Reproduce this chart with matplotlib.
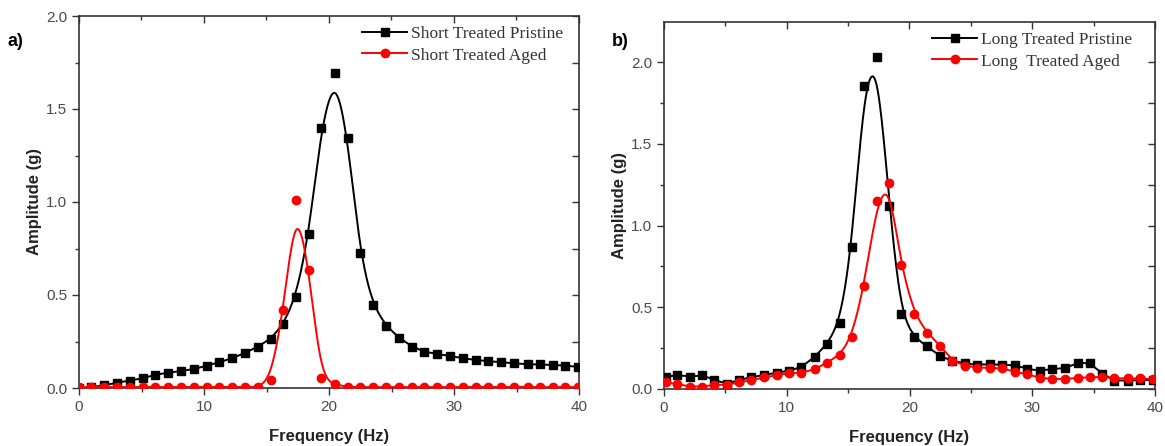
import numpy as np
import matplotlib
matplotlib.use("Agg")
import matplotlib.pyplot as plt
from matplotlib.lines import Line2D
from matplotlib.ticker import MultipleLocator

# ---------------- data ----------------
# Panel a) Short treated
a_pristine_x = [0.0, 1.0, 2.03, 3.01, 4.08, 5.09, 6.08, 7.15, 8.16, 9.22, 10.21, 11.23, 12.27,
                13.28, 14.29, 15.33, 16.35, 17.36, 18.4, 19.36, 20.48, 21.5, 22.48, 23.5, 24.56,
                25.6, 26.67, 27.6, 28.67, 29.68, 30.7, 31.76, 32.75, 33.76, 34.8, 35.9, 36.9,
                37.9, 38.9, 39.9]
a_pristine_y = [0.0, 0.005, 0.014, 0.029, 0.039, 0.052, 0.072, 0.082, 0.091, 0.102, 0.12, 0.138,
                0.161, 0.188, 0.222, 0.263, 0.344, 0.491, 0.83, 1.396, 1.695, 1.342, 0.724, 0.446,
                0.335, 0.27, 0.222, 0.195, 0.183, 0.172, 0.16, 0.15, 0.145, 0.138, 0.133, 0.127,
                0.127, 0.125, 0.12, 0.114]
a_aged_x = a_pristine_x
a_aged_y = [0.005, 0.005, 0.005, 0.005, 0.005, 0.005, 0.005, 0.005, 0.005, 0.005, 0.005, 0.005,
            0.005, 0.005, 0.005, 0.045, 0.418, 1.01, 0.634, 0.052, 0.02, 0.005, 0.005, 0.005,
            0.005, 0.005, 0.005, 0.005, 0.005, 0.005, 0.005, 0.005, 0.005, 0.005, 0.008, 0.005,
            0.005, 0.005, 0.005, 0.005]

# Panel b) Long treated
b_x = [0.2, 1.07, 2.1, 3.12, 4.1, 5.1, 6.1, 7.1, 8.15, 9.17, 10.16, 11.2, 12.3, 13.25, 14.33,
       15.3, 16.3, 17.36, 18.36, 19.3, 20.4, 21.45, 22.5, 23.5, 24.5, 25.5, 26.55, 27.55, 28.6,
       29.6, 30.6, 31.6, 32.66, 33.7, 34.7, 35.7, 36.7, 37.77, 38.8, 39.8]
b_pristine_y = [0.075, 0.086, 0.075, 0.086, 0.055, 0.03, 0.055, 0.072, 0.086, 0.1, 0.11, 0.133,
                0.198, 0.273, 0.405, 0.87, 1.853, 2.03, 1.12, 0.457, 0.316, 0.26, 0.2, 0.171,
                0.157, 0.147, 0.153, 0.147, 0.147, 0.122, 0.112, 0.122, 0.126, 0.161, 0.161,
                0.092, 0.051, 0.051, 0.055, 0.055]
b_aged_y = [0.04, 0.03, 0.015, 0.015, 0.025, 0.025, 0.04, 0.055, 0.071, 0.086, 0.096, 0.1, 0.12,
            0.161, 0.208, 0.32, 0.63, 1.15, 1.258, 0.758, 0.457, 0.344, 0.265, 0.171, 0.143,
            0.13, 0.13, 0.126, 0.106, 0.09, 0.069, 0.061, 0.061, 0.069, 0.071, 0.075, 0.065,
            0.065, 0.065, 0.061]

a_labels = ["Short Treated Pristine", "Short Treated Aged"]
b_labels = ["Long Treated Pristine", "Long  Treated Aged"]


def bspline(x, y, n=30):
    """Uniform cubic B-spline using the data points as control points (Origin style)."""
    P = np.column_stack([x, y]).astype(float)
    P = np.vstack([P[0], P[0], P, P[-1], P[-1]])
    t = np.linspace(0, 1, n, endpoint=False)
    b0 = (1 - t) ** 3 / 6
    b1 = (3 * t ** 3 - 6 * t ** 2 + 4) / 6
    b2 = (-3 * t ** 3 + 3 * t ** 2 + 3 * t + 1) / 6
    b3 = t ** 3 / 6
    out = []
    for i in range(len(P) - 3):
        seg = (np.outer(b0, P[i]) + np.outer(b1, P[i + 1]) +
               np.outer(b2, P[i + 2]) + np.outer(b3, P[i + 3]))
        out.append(seg)
    out.append(P[-1][None, :])
    out = np.vstack(out)
    return out[:, 0], out[:, 1]


BLACK = "#000000"
RED = "#ff0000"
SANS = ["Liberation Sans", "DejaVu Sans"]
SERIF = ["Liberation Serif", "DejaVu Serif"]
TICKC = "#4a4a4a"
SPINEC = "#333333"

fig = plt.figure(figsize=(11.65, 4.46), dpi=100)
ax1 = fig.add_axes([79 / 1165, 1 - 388 / 446, 500 / 1165, 372 / 446])
ax2 = fig.add_axes([664 / 1165, 1 - 389 / 446, 491 / 1165, 367 / 446])


def draw(ax, x1, y1, x2, y2, labels, ylim, legend_anchor):
    cx, cy = bspline(x1, y1)
    ax.plot(cx, cy, color=BLACK, lw=1.4, zorder=2)
    ax.plot(x1, y1, ls="none", marker="s", ms=5.2, color=BLACK, zorder=3)
    cx, cy = bspline(x2, y2)
    ax.plot(cx, cy, color=RED, lw=1.4, zorder=4)
    ax.plot(x2, y2, ls="none", marker="o", ms=6, color=RED, zorder=5)
    ax.set_xlim(0, 40)
    ax.set_ylim(*ylim)
    ax.xaxis.set_major_locator(MultipleLocator(10))
    ax.xaxis.set_minor_locator(MultipleLocator(5))
    ax.yaxis.set_major_locator(MultipleLocator(0.5))
    ax.yaxis.set_minor_locator(MultipleLocator(0.25))
    ax.yaxis.set_major_formatter(matplotlib.ticker.FormatStrFormatter("%.1f"))
    ax.tick_params(which="both", direction="out", colors=SPINEC, labelcolor=TICKC,
                   labelsize=11, width=1.0)
    ax.tick_params(which="major", length=5)
    ax.tick_params(which="minor", length=3)
    for lab in ax.get_xticklabels() + ax.get_yticklabels():
        lab.set_family(SANS)
    for s in ax.spines.values():
        s.set_color(SPINEC)
        s.set_linewidth(1.2)
    # inward ticks on top and right
    top = ax.secondary_xaxis("top")
    top.xaxis.set_major_locator(MultipleLocator(10))
    top.xaxis.set_minor_locator(MultipleLocator(5))
    top.tick_params(which="both", direction="in", labeltop=False, colors=SPINEC, width=1.0)
    top.tick_params(which="major", length=5)
    top.tick_params(which="minor", length=3)
    top.spines["top"].set_visible(False)
    right = ax.secondary_yaxis("right")
    right.yaxis.set_major_locator(MultipleLocator(0.5))
    right.yaxis.set_minor_locator(MultipleLocator(0.25))
    right.tick_params(which="both", direction="in", labelright=False, colors=SPINEC, width=1.0)
    right.tick_params(which="major", length=5)
    right.tick_params(which="minor", length=5)
    right.spines["right"].set_visible(False)

    ax.set_xlabel("Frequency (Hz)", fontsize=12, fontweight="bold", family=SANS,
                  color="#222222", labelpad=11)
    ax.set_ylabel("Amplitude (g)", fontsize=12, fontweight="bold", family=SANS,
                  color="#222222", labelpad=3)
    handles = [Line2D([], [], color=BLACK, lw=1.4, marker="s", ms=5.2),
               Line2D([], [], color=RED, lw=1.4, marker="o", ms=6)]
    leg = ax.legend(handles, labels, loc="upper left", bbox_to_anchor=legend_anchor,
                    bbox_transform=fig.transFigure, frameon=False,
                    prop={"family": SERIF, "size": 12.5}, handlelength=2.6,
                    handletextpad=0.2, labelspacing=0.3, borderaxespad=0, borderpad=0)
    for t in leg.get_texts():
        t.set_color("#333333")


draw(ax1, a_pristine_x, a_pristine_y, a_aged_x, a_aged_y, a_labels, (0, 2.0),
     (362 / 1165, 1 - 26 / 446))
draw(ax2, b_x, b_pristine_y, b_x, b_aged_y, b_labels, (0, 2.245),
     (932 / 1165, 1 - 32 / 446))

fig.text(8 / 1165, 1 - 42 / 446, "a)", fontsize=13, fontweight="bold", family=SANS,
         va="center", ha="left")
fig.text(612 / 1165, 1 - 42 / 446, "b)", fontsize=13, fontweight="bold", family=SANS,
         va="center", ha="left")

fig.savefig("out.png", dpi=100)
